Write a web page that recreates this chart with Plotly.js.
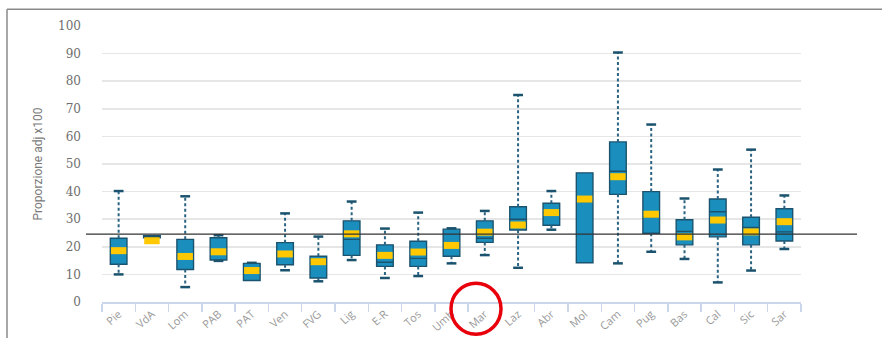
<!DOCTYPE html>
<html>
<head>
<meta charset="utf-8">
<script src="https://cdn.plot.ly/plotly-3.0.1.min.js"></script>
<style>
  html, body { margin: 0; padding: 0; background: #ffffff; }
  #chart { width: 882px; height: 338px; }
</style>
</head>
<body>
<div id="chart"></div>
<script>
// ---- Data ----
const regions = ['Pie','VdA','Lom','PAB','PAT','Ven','FVG','Lig','E-R','Tos','Umb','Mar','Laz','Abr','Mol','Cam','Pug','Bas','Cal','Sic','Sar'];
const whiskerLow  = [10.0, 23.3,  5.4, 14.9,  7.8, 11.5,  7.5, 15.2,  8.7,  9.4, 14.0, 17.0, 12.4, 26.2, 14.2, 14.0, 18.2, 15.6,  7.1, 11.4, 19.2];
const q1          = [13.7, 23.3, 11.8, 15.2,  7.8, 13.5,  8.7, 16.9, 12.9, 12.9, 16.6, 21.6, 26.1, 27.8, 14.2, 39.0, 24.9, 20.7, 23.6, 20.7, 22.1];
const medians     = [18.7, 23.6, 16.8, 18.5, 11.2, 17.5, 14.0, 22.7, 14.4, 15.8, 20.5, 23.1, 30.0, 32.3, 36.4, 47.4, 31.0, 25.6, 32.7, 27.0, 25.4];
const q3          = [23.1, 24.0, 22.7, 23.3, 14.0, 21.5, 16.6, 29.4, 20.7, 22.0, 26.4, 29.4, 34.5, 35.8, 46.8, 58.0, 40.0, 29.8, 37.3, 30.7, 33.8];
const whiskerHigh = [40.2, 24.0, 38.3, 24.2, 14.2, 32.1, 23.7, 36.4, 26.6, 32.4, 26.7, 33.0, 75.0, 40.2, 46.8, 90.4, 64.3, 37.5, 48.0, 55.2, 38.6];
const means       = [18.6, 22.2, 16.5, 18.2, 11.4, 17.4, 14.6, 24.7, 16.9, 18.1, 20.5, 25.3, 27.9, 32.4, 37.3, 45.4, 31.8, 23.6, 29.7, 25.4, 29.1];
const referenceValue = 24.6;
const yTickValues = [0,10,20,30,40,50,60,70,80,90,100];
const yTitle = 'Proporzione adj x100';

// ---- Build whisker segments and caps from the arrays ----
const wx = [], wy = [], capX = [], capY = [];
regions.forEach((r, i) => {
  if (whiskerHigh[i] > q3[i]) {
    wx.push(r, r, null); wy.push(q3[i], whiskerHigh[i], null);
    capX.push(r); capY.push(whiskerHigh[i]);
  }
  if (whiskerLow[i] < q1[i]) {
    wx.push(r, r, null); wy.push(q1[i], whiskerLow[i], null);
    capX.push(r); capY.push(whiskerLow[i]);
  }
});

const dark = '#1b536e';

const traces = [
  {
    type: 'scatter', mode: 'lines', x: wx, y: wy,
    line: { color: '#2b6482', width: 2, dash: '3px,2.5px' },
    hoverinfo: 'skip', showlegend: false, connectgaps: false
  },
  {
    type: 'box', x: regions,
    q1: q1, median: medians, q3: q3,
    lowerfence: q1, upperfence: q3,
    width: 0.5, whiskerwidth: 0,
    fillcolor: '#1a8fbe',
    line: { color: dark, width: 1.4 },
    boxpoints: false, hoverinfo: 'skip', showlegend: false
  },
  {
    type: 'scatter', mode: 'markers', x: capX, y: capY,
    marker: { symbol: 'line-ew', size: 7, line: { color: dark, width: 2.5 } },
    hoverinfo: 'skip', showlegend: false
  },
  {
    type: 'scatter', mode: 'markers', x: regions, y: means,
    marker: { symbol: 'line-ew', size: 11, line: { color: '#ffc800', width: 7 } },
    hoverinfo: 'skip', showlegend: false
  }
];

// plot area: x 102..801, y 25.7..301.7
const L = 102, R = 801, T = 25.7, B = 301.7;
const px = v => (v - L) / (R - L);
const py = v => (B - v) / (B - T);

const layout = {
  width: 882, height: 338,
  margin: { l: 102, r: 81, t: 26, b: 36 },
  paper_bgcolor: '#ffffff', plot_bgcolor: '#ffffff',
  showlegend: false,
  xaxis: {
    type: 'category',
    categoryorder: 'array', categoryarray: regions,
    range: [-0.5, regions.length - 0.5],
    showgrid: false, zeroline: false,
    showline: true, linecolor: '#ccd6eb', linewidth: 1.5,
    ticks: 'outside', tickson: 'boundaries', ticklen: 8, tickwidth: 1.5, tickcolor: '#ccd6eb',
    tickangle: -42,
    tickfont: { family: 'Open Sans, DejaVu Sans, sans-serif', size: 11, color: '#9a9a9a' },
    fixedrange: true
  },
  yaxis: {
    range: [0, 100],
    tickvals: yTickValues,
    showgrid: true, gridcolor: '#e6e6e6', gridwidth: 1.6,
    zeroline: false, showline: false,
    ticks: '', ticklabelstandoff: 20,
    tickfont: { family: 'DejaVu Serif, Liberation Serif, serif', size: 12, color: '#6e6e6e' },
    title: { text: yTitle, standoff: 12,
      font: { family: 'Liberation Sans Narrow, Roboto, sans-serif', size: 12, color: '#7a7a7a' } },
    fixedrange: true
  },
  shapes: [
    // reference line
    { type: 'line', xref: 'paper', yref: 'y', x0: px(86), x1: px(857), y0: referenceValue, y1: referenceValue,
      line: { color: '#333333', width: 1.2 }, layer: 'above' },
    // outer frame (top and left)
    { type: 'line', xref: 'paper', yref: 'paper', x0: px(7), x1: px(882), y0: py(9), y1: py(9),
      line: { color: '#8a8a8a', width: 1.5 } },
    { type: 'line', xref: 'paper', yref: 'paper', x0: px(7), x1: px(7), y0: py(9), y1: py(340),
      line: { color: '#8a8a8a', width: 1.5 } },
    // red circle highlighting "Mar"
    { type: 'circle', xref: 'paper', yref: 'paper', x0: px(451), x1: px(501), y0: py(334), y1: py(283),
      line: { color: '#e8000b', width: 3.5 }, fillcolor: 'rgba(0,0,0,0)', layer: 'above' }
  ]
};

Plotly.newPlot('chart', traces, layout, { displayModeBar: false, staticPlot: true });
</script>
</body>
</html>
